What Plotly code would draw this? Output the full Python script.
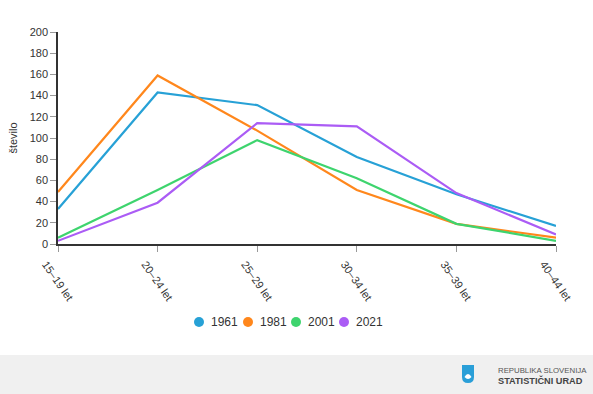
import plotly.graph_objects as go

categories = ["15–19 let", "20–24 let", "25–29 let", "30–34 let", "35–39 let", "40–44 let"]
series_names = ["1961", "1981", "2001", "2021"]
v1961 = [33, 143, 131, 82, 47, 17]
v1981 = [49, 159, 107, 51, 19, 6]
v2001 = [6, 51, 98, 62, 19, 3]
v2021 = [3, 39, 114, 111, 48, 9]
y_ticks = [0, 20, 40, 60, 80, 100, 120, 140, 160, 180, 200]

colors = ["#27a1d6", "#ff871c", "#3ed46e", "#ab5cf5"]
values = [v1961, v1981, v2001, v2021]

W, H = 593, 394
L, R, T, B = 58, 37, 32, 150
pw, ph = W - L - R, H - T - B

def px(x):
    return (x - L) / pw

def py(y):
    return (H - B - y) / ph

fig = go.Figure()
for name, vals, c in zip(series_names, values, colors):
    fig.add_trace(go.Scatter(x=categories, y=vals, mode="lines", name=name,
                             line=dict(color=c, width=2.2), showlegend=False,
                             hoverinfo="x+y+name"))

shapes = [
    dict(type="rect", xref="paper", yref="paper", x0=px(-5), x1=px(W + 5), y0=py(355), y1=py(H + 5),
         fillcolor="#f0f0f0", line=dict(width=0), layer="below"),
]
# shield logo
sx0, sx1, sy0, sy1 = 462, 474, 365, 383
path = (f"M {px(sx0)},{py(sy0)} L {px(sx1)},{py(sy0)} L {px(sx1)},{py(sy1-6)} "
        f"Q {px(sx1)},{py(sy1)} {px((sx0+sx1)/2)},{py(sy1)} Q {px(sx0)},{py(sy1)} {px(sx0)},{py(sy1-6)} Z")
shapes.append(dict(type="path", xref="paper", yref="paper", path=path,
                   fillcolor="#2a9fd8", line=dict(width=0)))
shapes.append(dict(type="path", xref="paper", yref="paper",
                   path=(f"M {px(464.5)},{py(377)} Q {px(468)},{py(371)} {px(471.5)},{py(377)} "
                         f"Q {px(468)},{py(381)} {px(464.5)},{py(377)} Z"),
                   fillcolor="white", line=dict(width=0)))

annotations = [
    dict(text="REPUBLIKA SLOVENIJA", xref="paper", yref="paper", x=px(496), y=py(370),
         xanchor="left", yanchor="middle", showarrow=False,
         font=dict(family="Liberation Sans, Arial", size=7.8, color="#555")),
    dict(text="<b>STATISTIČNI URAD</b>", xref="paper", yref="paper", x=px(496), y=py(380.5),
         xanchor="left", yanchor="middle", showarrow=False,
         font=dict(family="Liberation Sans, Arial", size=9.2, color="#444")),
]

# legend (manual, circle + label)
legend_x = [199, 248, 296, 344]
legend_y = 322
for name, c, lx in zip(series_names, colors, legend_x):
    shapes.append(dict(type="circle", xref="paper", yref="paper",
                       x0=px(lx - 5), x1=px(lx + 5), y0=py(legend_y + 5), y1=py(legend_y - 5),
                       fillcolor=c, line=dict(width=0)))
    annotations.append(dict(text=name, xref="paper", yref="paper", x=px(lx + 10), y=py(legend_y),
                            xanchor="left", yanchor="middle", showarrow=False,
                            font=dict(size=12, color="#333")))

fig.update_layout(
    width=W, height=H,
    margin=dict(l=L, r=R, t=T, b=B, pad=0),
    paper_bgcolor="white", plot_bgcolor="white",
    font=dict(family="Liberation Sans, Arial", size=11, color="#333"),
    showlegend=False,
    shapes=shapes,
    annotations=annotations,
    xaxis=dict(type="category", categoryorder="array", categoryarray=categories,
               range=[0, len(categories) - 1], showgrid=False, zeroline=False,
               showline=True, linecolor="#333", linewidth=1.5,
               ticks="outside", ticklen=6, tickcolor="#999", tickwidth=1,
               tickangle=55, ticklabelshift=-12, ticklabelstandoff=2,
               tickfont=dict(size=11, color="#333"), automargin=False),
    yaxis=dict(range=[0, 200], tickvals=y_ticks, showgrid=False, zeroline=False,
               showline=True, linecolor="#333", linewidth=1.5,
               ticks="outside", ticklen=6, tickcolor="#999", tickwidth=1,
               tickfont=dict(size=11, color="#333"), automargin=False,
               title=dict(text="število", font=dict(size=11, color="#333"), standoff=10)),
)

fig.write_html("out.html", config={"displayModeBar": False},
               post_script="document.body.style.margin='0';document.body.style.overflow='hidden';")
